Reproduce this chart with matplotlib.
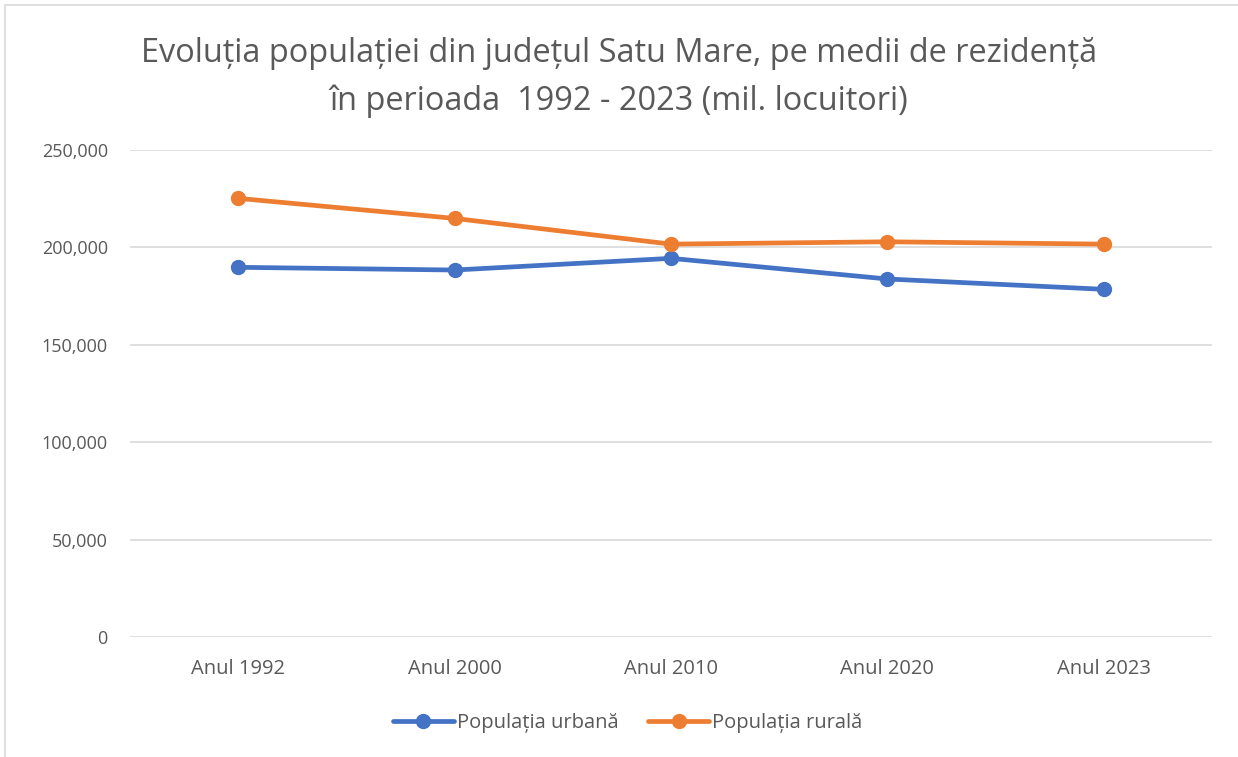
import matplotlib.pyplot as plt
from matplotlib.patches import Rectangle
from matplotlib.ticker import FuncFormatter

plt.rcParams['font.family'] = ['Open Sans', 'DejaVu Sans']

# Data
years = ['Anul 1992', 'Anul 2000', 'Anul 2010', 'Anul 2020', 'Anul 2023']
urban = [189800, 188400, 194400, 183800, 178500]
rural = [225200, 214900, 201700, 202900, 201700]

fig = plt.figure(figsize=(12.38, 7.57), dpi=100)
ax = fig.add_axes([0.105, 0.1585, 0.874, 0.6433])

x = range(len(years))
ax.plot(x, urban, color='#4472C4', lw=3.4, marker='o', ms=10, label='Populația urbană',
        solid_capstyle='round')
ax.plot(x, rural, color='#ED7D31', lw=3.4, marker='o', ms=10, label='Populația rurală',
        solid_capstyle='round')

ax.set_xlim(-0.5, 4.5)
ax.set_ylim(0, 250000)
ax.set_yticks(range(0, 250001, 50000))
ax.yaxis.set_major_formatter(FuncFormatter(lambda v, p: f'{int(v):,}'))
ax.set_xticks(list(x))
ax.set_xticklabels(years)
ax.tick_params(axis='both', length=0, colors='#595959')
ax.tick_params(axis='x', pad=16, labelsize=14.5)
ax.tick_params(axis='y', pad=16, labelsize=13)
ax.grid(axis='y', color='#D9D9D9', lw=1.2)
ax.set_axisbelow(True)
for s in ax.spines.values():
    s.set_visible(False)

fig.text(0.5, 0.929, 'Evoluția populației din județul Satu Mare, pe medii de rezidență',
         ha='center', va='center', fontsize=23.4, color='#595959')
fig.text(0.5, 0.866, 'în perioada  1992 - 2023 (mil. locuitori)',
         ha='center', va='center', fontsize=23.4, color='#595959')

fig.legend(loc='center', bbox_to_anchor=(0.507, 0.045), ncol=2, frameon=False,
           fontsize=14.5, labelcolor='#595959', handlelength=3, handletextpad=0.15,
           columnspacing=1.5)

# light chart frame
fig.patches.append(Rectangle((5 / 1238, -0.01), 1.2, 1 - 5 / 757 + 0.01,
                             transform=fig.transFigure, fill=False,
                             edgecolor='#D9D9D9', lw=1.2))

fig.savefig('out.png', dpi=100, facecolor='white')
